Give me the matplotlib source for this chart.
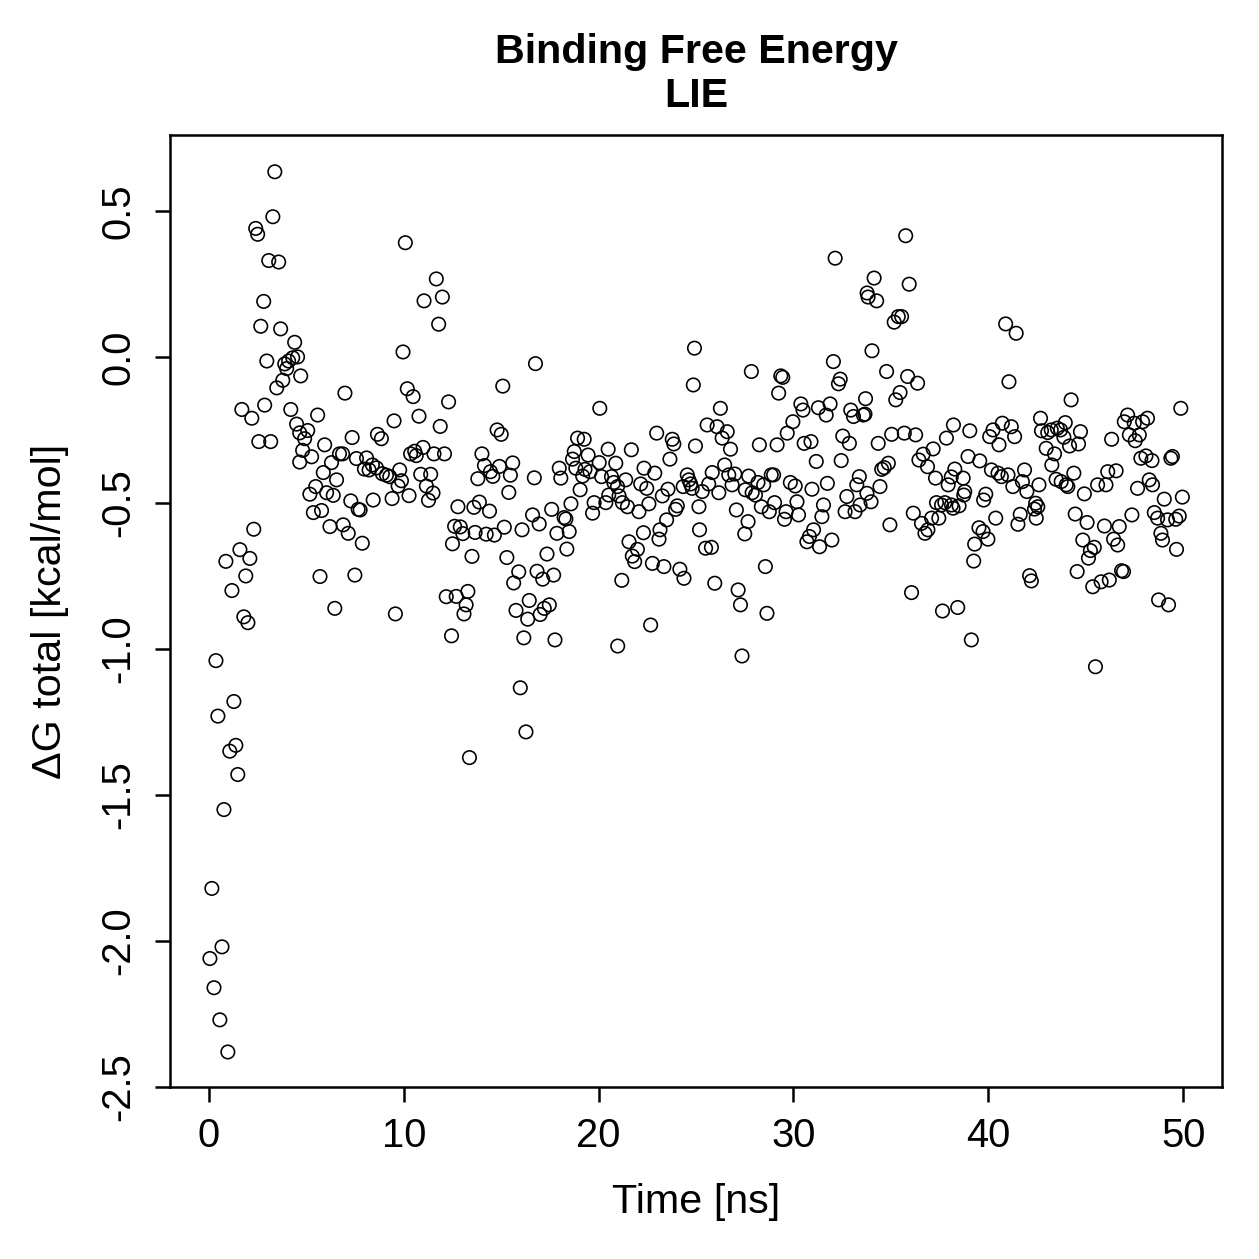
import matplotlib
matplotlib.use("Agg")
import matplotlib.pyplot as plt

plt.rcParams['font.family'] = ['Liberation Sans', 'DejaVu Sans']
plt.rcParams['axes.unicode_minus'] = False

# time [ns] and dG total [kcal/mol]
time_ns = [
    0.05, 0.15, 0.26, 0.36, 0.46, 0.56, 0.67, 0.77, 0.87, 0.97, 1.07, 1.18, 1.28, 1.38, 1.48,
    1.59, 1.69, 1.79, 1.89, 2.0, 2.1, 2.2, 2.3, 2.4, 2.5, 2.56, 2.66, 2.81, 2.86, 2.97,
    3.07, 3.17, 3.28, 3.38, 3.48, 3.58, 3.68, 3.79, 3.89, 3.99, 4.09, 4.2, 4.3, 4.4, 4.5,
    4.55, 4.66, 4.66, 4.71, 4.81, 4.91,
    # 5 - 8.3
    5.07, 5.18, 5.27, 5.36, 5.48, 5.58, 5.70, 5.78, 5.87, 5.94, 6.04, 6.21, 6.29, 6.38, 6.46,
    6.55, 6.70, 6.86, 6.89, 6.98, 7.15, 7.28, 7.35, 7.49, 7.57, 7.66, 7.76, 7.87, 7.98, 8.09, 8.22,
    # 8.3 - 12.5
    8.39, 8.43, 8.60, 8.65, 8.85, 8.90, 9.11, 9.28, 9.40, 9.50, 9.57, 9.71, 9.79, 9.88, 9.96,
    10.08, 10.18, 10.27, 10.35, 10.48, 10.56, 10.64, 10.78, 10.87, 10.99, 11.04, 11.16, 11.27, 11.38, 11.50,
    11.55, 11.67, 11.79, 11.87, 11.98, 12.09, 12.18, 12.30, 12.45,
    # 12.5 - 16.5
    12.50, 12.61, 12.69, 12.78, 12.90, 13.03, 13.09, 13.20, 13.29, 13.37, 13.50, 13.60, 13.66, 13.80, 13.88,
    14.01, 14.14, 14.23, 14.40, 14.45, 14.57, 14.65, 14.79, 14.91, 15.0, 15.08, 15.16, 15.29, 15.39, 15.47,
    15.59, 15.64, 15.76, 15.90, 15.98, 16.07, 16.16, 16.27, 16.36, 16.44,
    # 16.5 - 21.2
    16.61, 16.70, 16.76, 16.84, 16.95, 17.0, 17.13, 17.21, 17.35, 17.47, 17.59, 17.69, 17.76, 17.86, 17.98,
    18.06, 18.23, 18.32, 18.37, 18.49, 18.58, 18.66, 18.75, 18.83, 18.92, 19.05, 19.18, 19.26, 19.30, 19.46,
    19.56, 19.69, 19.77, 20.03, 20.06, 20.15, 20.37, 20.49, 20.52, 20.66, 20.78, 20.88, 20.97, 20.98, 21.05,
    21.19,
    # 21.2 - 25
    21.22, 21.39, 21.48, 21.56, 21.68, 21.73, 21.85, 21.99, 22.07, 22.16, 22.30, 22.33, 22.47, 22.58, 22.67,
    22.76, 22.88, 22.98, 23.10, 23.15, 23.27, 23.35, 23.49, 23.56, 23.66, 23.78, 23.86, 23.95, 24.04, 24.17,
    24.34, 24.38, 24.55, 24.63, 24.72, 24.80, 24.86, 24.92,
    # 25 - 29.3
    24.97, 25.15, 25.18, 25.32, 25.49, 25.57, 25.65, 25.79, 25.83, 25.96, 26.08, 26.17, 26.25, 26.34, 26.47,
    26.60, 26.68, 26.77, 26.85, 26.99, 27.07, 27.16, 27.28, 27.36, 27.50, 27.53, 27.67, 27.70, 27.84, 27.88,
    28.05, 28.18, 28.25, 28.35, 28.47, 28.56, 28.64, 28.76, 28.86, 28.98, 29.03, 29.16, 29.24,
    # 29.3 - 33.7
    29.35, 29.45, 29.54, 29.62, 29.68, 29.84, 29.97, 30.09, 30.18, 30.26, 30.38, 30.49, 30.55, 30.69, 30.82,
    30.90, 30.95, 31.03, 31.17, 31.28, 31.34, 31.46, 31.54, 31.68, 31.74, 31.88, 31.97, 32.05, 32.14, 32.31,
    32.40, 32.45, 32.53, 32.65, 32.74, 32.87, 32.94, 33.08, 33.16, 33.25, 33.38, 33.42, 33.59,
    # 33.7 - 38
    33.67, 33.70, 33.77, 33.78, 33.83, 33.98, 34.03, 34.14, 34.27, 34.35, 34.44, 34.53, 34.66, 34.78, 34.87,
    34.95, 35.04, 35.17, 35.25, 35.38, 35.47, 35.55, 35.69, 35.76, 35.86, 35.94, 36.06, 36.15, 36.27, 36.37,
    36.44, 36.57, 36.66, 36.75, 36.88, 36.90, 37.09, 37.17, 37.29, 37.34, 37.46, 37.60, 37.65, 37.77, 37.85,
    37.94,
    # 38 - 42.8
    38.10, 38.11, 38.19, 38.21, 38.28, 38.43, 38.50, 38.71, 38.74, 38.79, 38.96, 39.05, 39.13, 39.25, 39.30,
    39.52, 39.56, 39.73, 39.76, 39.87, 39.98, 40.07, 40.16, 40.24, 40.38, 40.50, 40.55, 40.67, 40.72, 40.89,
    41.01, 41.06, 41.18, 41.26, 41.35, 41.43, 41.52, 41.64, 41.75, 41.86, 41.98, 42.12, 42.21, 42.37, 42.43,
    42.46, 42.54, 42.60, 42.68, 42.73,
    # 42.8 - 47
    42.97, 43.05, 43.23, 43.26, 43.40, 43.48, 43.54, 43.71, 43.74, 43.88, 43.95, 44.0, 44.08, 44.17, 44.25,
    44.39, 44.46, 44.56, 44.63, 44.73, 44.85, 44.93, 45.07, 45.14, 45.24, 45.36, 45.44, 45.50, 45.61, 45.79,
    45.96, 46.04, 46.13, 46.21, 46.33, 46.43, 46.56, 46.64, 46.72, 46.84, 46.94,
    # 47 - 50
    46.98, 47.15, 47.24, 47.37, 47.49, 47.54, 47.66, 47.75, 47.83, 47.92, 48.09, 48.17, 48.26, 48.40, 48.43,
    48.52, 48.69, 48.74, 48.86, 48.94, 49.03, 49.20, 49.25, 49.37, 49.45, 49.62, 49.66, 49.80, 49.88, 49.96,
]

dg_total = [
    -2.06, -1.82, -2.16, -1.04, -1.23, -2.27, -2.02, -1.55, -0.70, -2.38, -1.35, -0.80, -1.18, -1.33, -1.43,
    -0.66, -0.18, -0.89, -0.75, -0.91, -0.69, -0.21, -0.59, 0.44, 0.42, -0.29, 0.105, 0.19, -0.165, -0.014,
    0.33, -0.29, 0.48, 0.634, -0.106, 0.325, 0.096, -0.08, -0.024, -0.04, -0.014, -0.18, -0.003, 0.05, -0.23,
    0.0, -0.26, -0.36, -0.065, -0.32, -0.28,
    # 5 - 8.3
    -0.252, -0.470, -0.342, -0.533, -0.444, -0.199, -0.752, -0.526, -0.396, -0.301, -0.465, -0.581, -0.362, -0.474, -0.861,
    -0.421, -0.332, -0.332, -0.575, -0.124, -0.604, -0.493, -0.276, -0.747, -0.348, -0.522, -0.524, -0.638, -0.384, -0.346, -0.387,
    # 8.3 - 12.5
    -0.37, -0.49, -0.38, -0.265, -0.28, -0.40, -0.405, -0.41, -0.485, -0.219, -0.88, -0.442, -0.387, -0.424, 0.017,
    0.391, -0.109, -0.475, -0.332, -0.136, -0.323, -0.338, -0.203, -0.402, -0.31, 0.192, -0.442, -0.491, -0.402, -0.466,
    -0.332, 0.267, 0.112, -0.238, 0.205, -0.332, -0.821, -0.154, -0.955,
    # 12.5 - 16.5
    -0.64, -0.58, -0.82, -0.513, -0.582, -0.605, -0.88, -0.849, -0.803, -1.372, -0.683, -0.515, -0.601, -0.417, -0.497,
    -0.332, -0.372, -0.607, -0.528, -0.393, -0.409, -0.61, -0.25, -0.375, -0.265, -0.10, -0.583, -0.687, -0.464, -0.405,
    -0.363, -0.774, -0.868, -0.736, -1.133, -0.592, -0.962, -1.284, -0.898, -0.834,
    # 16.5 - 21.2
    -0.541, -0.414, -0.023, -0.734, -0.572, -0.882, -0.761, -0.861, -0.675, -0.849, -0.522, -0.747, -0.969, -0.604, -0.381,
    -0.415, -0.55, -0.555, -0.658, -0.598, -0.503, -0.350, -0.324, -0.381, -0.278, -0.455, -0.408, -0.282, -0.385, -0.336,
    -0.393, -0.535, -0.499, -0.362, -0.176, -0.41, -0.499, -0.316, -0.473, -0.41, -0.43, -0.364, -0.444, -0.99, -0.476,
    -0.765,
    # 21.2 - 25
    -0.499, -0.421, -0.513, -0.633, -0.318, -0.682, -0.701, -0.659, -0.53, -0.435, -0.602, -0.381, -0.45, -0.503, -0.918,
    -0.707, -0.398, -0.261, -0.624, -0.592, -0.476, -0.718, -0.558, -0.453, -0.35, -0.282, -0.298, -0.522, -0.51, -0.727,
    -0.444, -0.758, -0.404, -0.421, -0.435, -0.45, -0.096, 0.03,
    # 25 - 29.3
    -0.305, -0.513, -0.592, -0.461, -0.655, -0.233, -0.435, -0.652, -0.396, -0.775, -0.239, -0.465, -0.176, -0.278, -0.37,
    -0.256, -0.404, -0.316, -0.438, -0.401, -0.524, -0.798, -0.849, -1.024, -0.606, -0.455, -0.564, -0.408, -0.05, -0.465,
    -0.473, -0.43, -0.301, -0.513, -0.438, -0.718, -0.878, -0.53, -0.404, -0.404, -0.499, -0.301, -0.124,
    # 29.3 - 33.7
    -0.065, -0.07, -0.556, -0.53, -0.261, -0.43, -0.222, -0.442, -0.496, -0.541, -0.161, -0.182, -0.296, -0.633, -0.615,
    -0.29, -0.453, -0.592, -0.358, -0.174, -0.65, -0.547, -0.507, -0.199, -0.433, -0.161, -0.627, -0.016, 0.338, -0.092,
    -0.076, -0.355, -0.271, -0.53, -0.478, -0.296, -0.182, -0.204, -0.53, -0.438, -0.41, -0.507, -0.199,
    # 33.7 - 38
    -0.196, -0.143, -0.467, 0.219, 0.205, -0.496, 0.021, 0.27, 0.192, -0.296, -0.444, -0.385, -0.379, -0.05, -0.364,
    -0.575, -0.265, 0.119, -0.147, 0.138, -0.122, 0.138, -0.261, 0.415, -0.067, 0.249, -0.807, -0.535, -0.267, -0.09,
    -0.353, -0.57, -0.333, -0.604, -0.376, -0.592, -0.552, -0.315, -0.415, -0.499, -0.552, -0.507, -0.87, -0.499, -0.278,
    -0.438,
    # 38 - 42.8
    -0.411, -0.507, -0.518, -0.233, -0.384, -0.858, -0.51, -0.415, -0.473, -0.461, -0.341, -0.253, -0.969, -0.699, -0.641,
    -0.585, -0.356, -0.598, -0.49, -0.47, -0.624, -0.273, -0.387, -0.25, -0.552, -0.398, -0.301, -0.41, -0.227, 0.113,
    -0.404, -0.085, -0.239, -0.444, -0.273, 0.081, -0.573, -0.539, -0.427, -0.387, -0.461, -0.749, -0.767, -0.521, -0.501,
    -0.552, -0.513, -0.438, -0.21, -0.253,
    # 42.8 - 47
    -0.313, -0.259, -0.25, -0.37, -0.332, -0.419, -0.244, -0.25, -0.427, -0.275, -0.225, -0.438, -0.444, -0.305, -0.147,
    -0.398, -0.538, -0.735, -0.298, -0.256, -0.627, -0.469, -0.567, -0.689, -0.663, -0.787, -0.652, -1.061, -0.438, -0.77,
    -0.579, -0.438, -0.393, -0.764, -0.282, -0.624, -0.39, -0.644, -0.581, -0.732, -0.735,
    # 47 - 50
    -0.222, -0.199, -0.267, -0.541, -0.227, -0.287, -0.45, -0.267, -0.347, -0.222, -0.339, -0.21, -0.421, -0.355, -0.438,
    -0.533, -0.552, -0.832, -0.604, -0.627, -0.487, -0.558, -0.849, -0.347, -0.341, -0.556, -0.659, -0.545, -0.176, -0.48,
]

x_ticks = [0, 10, 20, 30, 40, 50]
y_ticks = [-2.5, -2.0, -1.5, -1.0, -0.5, 0.0, 0.5]
y_tick_labels = ["-2.5", "-2.0", "-1.5", "-1.0", "-0.5", "0.0", "0.5"]

fig = plt.figure(figsize=(1259 / 180, 1259 / 180), dpi=180)
ax = fig.add_axes([0.135, 0.1366, 0.8357, 0.7562])

ax.scatter(time_ns, dg_total, s=29, facecolors="none", edgecolors="black", linewidths=0.65)

ax.set_xlim(-2.0, 52.0)
ax.set_ylim(-2.5, 0.76)
ax.set_xticks(x_ticks)
ax.set_xticklabels([str(t) for t in x_ticks])
ax.set_yticks(y_ticks)
ax.set_yticklabels(y_tick_labels, rotation=90, va="center")

for s in ax.spines.values():
    s.set_linewidth(1.0)
ax.tick_params(direction="out", length=6, width=1.0, labelsize=16, pad=6)
ax.tick_params(axis="y", pad=7)

ax.set_xlabel("Time [ns]", fontsize=16.5, labelpad=11)
ax.set_ylabel("ΔG total [kcal/mol]", fontsize=16.5, labelpad=12)
ax.set_title("Binding Free Energy\nLIE", fontsize=16.5, fontweight="bold", pad=11, linespacing=1.2)

fig.savefig("out.png", dpi=180)
